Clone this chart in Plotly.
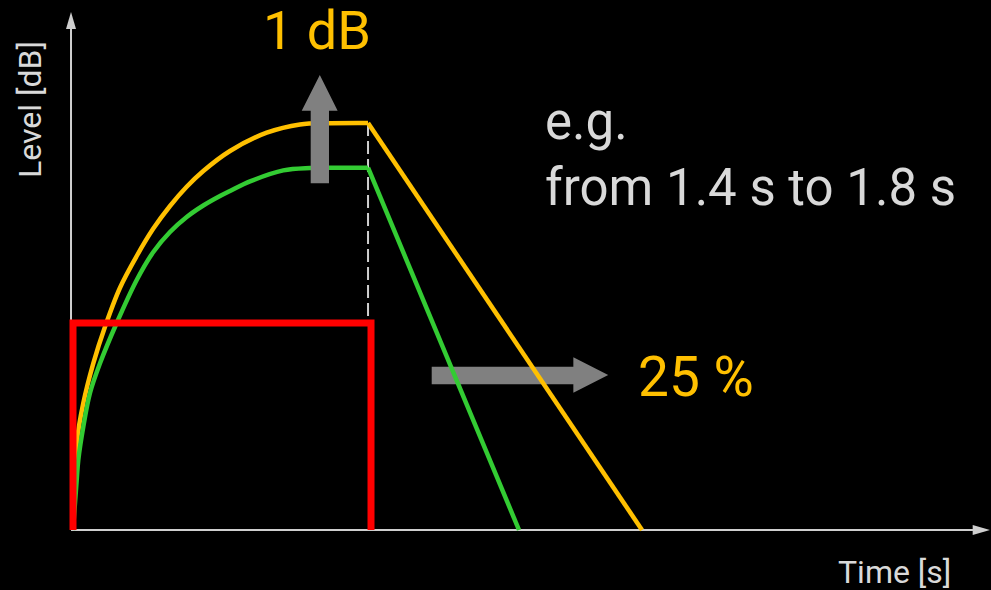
import plotly.graph_objects as go

# ---- data (time in s-like units, level in dB-like units) ----
yellow_t = [0.0, 0.0124, 0.0346, 0.0681, 0.1074, 0.1577, 0.2138, 0.2695, 0.3255, 0.3815, 0.4372, 0.5268, 0.65, 0.7617, 0.8624, 0.99, 1.9094]
yellow_L = [0.0, 8.7, 12.7, 16.67, 20.33, 24.23, 27.4, 30.14, 32.4, 34.32, 35.9, 37.9, 39.73, 40.56, 40.68, 40.7, 0.0]

green_t = [0.0, 0.0124, 0.0178, 0.0346, 0.057, 0.0906, 0.1466, 0.2138, 0.2695, 0.3255, 0.3815, 0.4372, 0.4933, 0.5268, 0.594, 0.7057, 0.7953, 0.8624, 0.99, 1.4966]
green_L = [0.0, 5.0, 7.0, 10.33, 13.7, 16.67, 20.7, 25.0, 27.8, 29.8, 31.3, 32.45, 33.4, 33.9, 34.86, 35.96, 36.2, 36.23, 36.23, 0.0]

red_t = [0.0, 0.0, 1.0, 1.0]
red_L = [0.0, 20.7, 20.7, 0.0]

dash_t = [0.99, 0.99]
dash_L = [40.7, 20.7]

YELLOW = "#FFC000"
GREEN = "#33CC33"
RED = "#FF0000"
GREYTXT = "#D9D9D9"
AXIS = "#CFCFCF"
ARROW = "#808080"

fig = go.Figure()


def split(ts, Ls):
    i = ts.index(0.99)
    return (ts[:i + 1], Ls[:i + 1]), (ts[i:], Ls[i:])


(yb_t, yb_L), (yd_t, yd_L) = split(yellow_t, yellow_L)
(gb_t, gb_L), (gd_t, gd_L) = split(green_t, green_L)

fig.add_trace(go.Scatter(x=dash_t, y=dash_L, mode="lines",
                         line=dict(color=AXIS, width=2, dash="13px,5px"), hoverinfo="skip"))
fig.add_trace(go.Scatter(x=yb_t, y=yb_L, mode="lines", line=dict(color=YELLOW, width=4.5, shape="spline", smoothing=1.0)))
fig.add_trace(go.Scatter(x=yd_t, y=yd_L, mode="lines", line=dict(color=YELLOW, width=4.5)))
fig.add_trace(go.Scatter(x=gb_t, y=gb_L, mode="lines", line=dict(color=GREEN, width=4.5, shape="spline", smoothing=1.0)))
fig.add_trace(go.Scatter(x=gd_t, y=gd_L, mode="lines", line=dict(color=GREEN, width=4.5)))
fig.add_trace(go.Scatter(x=red_t, y=red_L, mode="lines", line=dict(color=RED, width=7)))

shapes = []
# axes with arrowheads
shapes.append(dict(type="line", xref="x", yref="y", x0=-0.0067, y0=0, x1=3.02, y1=0,
                   line=dict(color=AXIS, width=2), layer="below"))
shapes.append(dict(type="path", xref="x", yref="y",
                   path="M3.019,0.5 L3.077,0 L3.019,-0.5 Z", fillcolor=AXIS, line=dict(width=0), layer="below"))
shapes.append(dict(type="line", xref="x", yref="y", x0=-0.0067, y0=0, x1=-0.0067, y1=50.2,
                   line=dict(color=AXIS, width=2), layer="below"))
shapes.append(dict(type="path", xref="x", yref="y",
                   path="M-0.0235,50.1 L-0.0067,51.8 L0.0101,50.1 Z", fillcolor=AXIS, line=dict(width=0), layer="below"))
# right arrow (below curves)
shapes.append(dict(type="path", xref="x", yref="y",
                   path="M1.2037,16.33 L1.679,16.33 L1.679,17.27 L1.796,15.5 L1.679,13.73 L1.679,14.57 L1.2037,14.57 Z",
                   fillcolor=ARROW, line=dict(width=0), layer="below"))
# up arrow (above curves)
shapes.append(dict(type="path", xref="x", yref="y",
                   path="M0.7976,34.67 L0.7976,41.93 L0.7675,41.93 L0.8282,45.5 L0.888,41.93 L0.859,41.93 L0.859,34.67 Z",
                   fillcolor=ARROW, line=dict(width=0), layer="above"))

F = "Roboto"
annotations = [
    dict(text="Level [dB]", xref="paper", yref="paper", x=30 / 991, y=1 - 110 / 590, textangle=-90,
         showarrow=False, font=dict(family=F, size=32, color=GREYTXT), xanchor="center", yanchor="middle"),
    dict(text="Time [s]", xref="paper", yref="paper", x=894 / 991, y=1 - 572 / 590,
         showarrow=False, font=dict(family=F, size=32, color=GREYTXT), xanchor="center", yanchor="middle"),
    dict(text="1 dB", xref="paper", yref="paper", x=317 / 991, y=1 - 31 / 590,
         showarrow=False, font=dict(family=F, size=54, color=YELLOW), xanchor="center", yanchor="middle"),
    dict(text="25 %", xref="paper", yref="paper", x=696 / 991, y=1 - 377 / 590,
         showarrow=False, font=dict(family=F, size=55, color=YELLOW), xanchor="center", yanchor="middle"),
    dict(text="e.g.", xref="paper", yref="paper", x=543 / 991, y=1 - 122 / 590,
         showarrow=False, font=dict(family=F, size=51, color=GREYTXT), xanchor="left", yanchor="middle"),
    dict(text="from 1.4 s to 1.8 s", xref="paper", yref="paper", x=543 / 991, y=1 - 188 / 590,
         showarrow=False, font=dict(family=F, size=51, color=GREYTXT), xanchor="left", yanchor="middle"),
]

fig.update_layout(
    width=991, height=590,
    margin=dict(l=0, r=0, t=0, b=0),
    paper_bgcolor="black", plot_bgcolor="black",
    showlegend=False,
    xaxis=dict(range=[-0.245, 3.0805], visible=False, fixedrange=True),
    yaxis=dict(range=[-6, 53], visible=False, fixedrange=True),
    shapes=shapes, annotations=annotations,
)

fig.write_html(
    "out.html",
    config={"displayModeBar": False},
    post_script="document.body.style.margin='0';document.body.style.background='black';"
                "document.documentElement.style.overflow='hidden';",
)
